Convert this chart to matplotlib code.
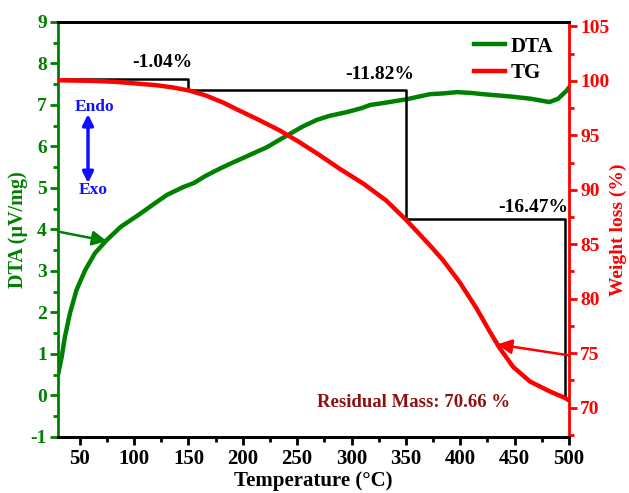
import matplotlib
matplotlib.use("Agg")
import matplotlib.pyplot as plt
from matplotlib.ticker import MultipleLocator

# DTA signal (uV/mg) vs temperature (C)
dta_temp = [30, 31, 33.4, 36.4, 41, 47, 55, 64, 75, 88, 104, 119, 130, 145, 155,
            165, 176, 188, 200, 210, 222, 233, 243, 255, 268, 280, 296, 310, 317,
            330, 351, 372, 385, 397, 410, 421, 435, 448, 465, 482, 490, 498, 500]
dta_val = [0.5, 0.62, 0.93, 1.42, 1.98, 2.54, 3.02, 3.43, 3.75, 4.07, 4.35, 4.63,
           4.83, 5.02, 5.12, 5.28, 5.43, 5.58, 5.72, 5.84, 5.98, 6.15, 6.3, 6.48,
           6.64, 6.74, 6.83, 6.93, 7.0, 7.05, 7.14, 7.26, 7.28, 7.31, 7.29, 7.26,
           7.23, 7.2, 7.15, 7.07, 7.15, 7.35, 7.42]

# TG weight (%) vs temperature (C)
tg_temp = [30, 60, 84, 120, 135, 151, 166, 182, 194, 215, 234, 252, 271, 289,
           311, 332, 350.5, 372, 384, 399.5, 415, 427, 436, 448.5, 464, 482,
           496, 500]
tg_val = [100.05, 100.0, 99.9, 99.6, 99.4, 99.1, 98.65, 98.0, 97.4, 96.4, 95.44,
          94.37, 93.15, 91.93, 90.55, 89.0, 87.2, 84.9, 83.55, 81.5, 79.1, 77.0,
          75.5, 73.75, 72.4, 71.5, 70.9, 70.66]

# weight-loss steps
step_start = 100.2
step_edges = [35, 150, 350, 496]
step_losses = [1.04, 11.82, 16.47]
residual = 70.66

GREEN = "#008000"
RED = "#FF0000"
BLUE = "#1010FF"
DARKRED = "#8B1212"

plt.rcParams["font.family"] = "Liberation Serif"
plt.rcParams["font.weight"] = "bold"
plt.rcParams["axes.unicode_minus"] = False

fig = plt.figure(figsize=(6.29, 4.93), dpi=100)
ax = fig.add_axes([0.0922, 0.1136, 0.8124, 0.8418])
ax2 = ax.twinx()

l1, = ax.plot(dta_temp, dta_val, color=GREEN, lw=3.2, label="DTA",
              solid_joinstyle="round")
l2, = ax2.plot(tg_temp, tg_val, color=RED, lw=3.2, label="TG",
               solid_joinstyle="round")

# staircase showing the mass loss per stage
sx, sy = [step_edges[0]], [step_start]
level = step_start
for i, loss in enumerate(step_losses):
    sx += [step_edges[i + 1], step_edges[i + 1]]
    sy += [level, level - loss]
    level -= loss
ax2.plot(sx, sy, color="black", lw=1.8, zorder=1)

ax.set_xlim(30, 500)
ax.set_ylim(-1, 9)
ax2.set_ylim(67.3, 105.4)

ax.xaxis.set_major_locator(MultipleLocator(50))
ax.xaxis.set_minor_locator(MultipleLocator(25))
ax.yaxis.set_major_locator(MultipleLocator(1))
ax.yaxis.set_minor_locator(MultipleLocator(0.5))
ax2.yaxis.set_major_locator(MultipleLocator(5))
ax2.yaxis.set_minor_locator(MultipleLocator(2.5))
ax2.set_yticks(range(70, 106, 5))

for a in (ax, ax2):
    for s in a.spines.values():
        s.set_linewidth(2)
ax.spines["left"].set_color(GREEN)
ax2.spines["left"].set_visible(False)
ax2.spines["right"].set_color(RED)
ax.spines["right"].set_visible(False)

ax.tick_params(axis="x", which="major", direction="out", length=6, width=2,
               labelsize=15, pad=3)
ax.tick_params(axis="x", which="minor", direction="out", length=3.5, width=2)
ax.tick_params(axis="y", which="major", direction="out", length=6, width=2,
               colors=GREEN, labelsize=14, pad=2)
ax.tick_params(axis="y", which="minor", direction="out", length=3.5, width=2,
               colors=GREEN)
ax2.tick_params(axis="y", which="major", direction="out", length=6, width=2,
                colors=RED, labelsize=14, pad=2)
ax2.tick_params(axis="y", which="minor", direction="out", length=3.5, width=2,
                colors=RED)

ax.set_xlabel("Temperature (°C)", fontsize=15, fontweight="bold", labelpad=1)
ax.set_ylabel("DTA (μV/mg)", fontsize=14.5, fontweight="bold", color=GREEN,
              labelpad=2)
ax2.set_ylabel("Weight loss (%)", fontsize=14, fontweight="bold", color=RED,
               labelpad=0)

# percent-loss labels
ax2.text(125.6, 101.7, "-1.04%", fontsize=14, ha="center", va="center")
ax2.text(326, 100.6, "-11.82%", fontsize=14, ha="center", va="center")
ax2.text(499, 88.35, "-16.47%", fontsize=14, ha="right", va="center")
ax2.text(357, 70.5, f"Residual Mass: {residual:.2f} %", fontsize=13.5,
         color=DARKRED, ha="center", va="center")

# Endo / Exo marker
ax.text(64, 6.95, "Endo", color=BLUE, fontsize=12.5, ha="center", va="center")
ax.text(62, 4.95, "Exo", color=BLUE, fontsize=12.5, ha="center", va="center")
ax.annotate("", xy=(57.6, 6.78), xytext=(57.6, 5.12),
            arrowprops=dict(arrowstyle="<|-|>", color=BLUE, lw=2.5,
                            mutation_scale=16, shrinkA=0, shrinkB=0))

# arrows pointing curves to their axes
ax.annotate("", xy=(75, 3.72), xytext=(30, 3.95),
            arrowprops=dict(arrowstyle="-|>", color=GREEN, lw=1.8,
                            mutation_scale=22, shrinkA=0, shrinkB=0))
ax2.annotate("", xy=(434, 75.8), xytext=(500, 74.8),
             arrowprops=dict(arrowstyle="-|>", color=RED, lw=1.8,
                             mutation_scale=22, shrinkA=0, shrinkB=0))

leg = ax2.legend([l1, l2], ["DTA", "TG"], loc="upper right",
                 bbox_to_anchor=(1.005, 1.01), frameon=False, fontsize=15,
                 handlelength=1.5, handletextpad=0.25, labelspacing=0.3)

fig.savefig("out.png", dpi=100)
